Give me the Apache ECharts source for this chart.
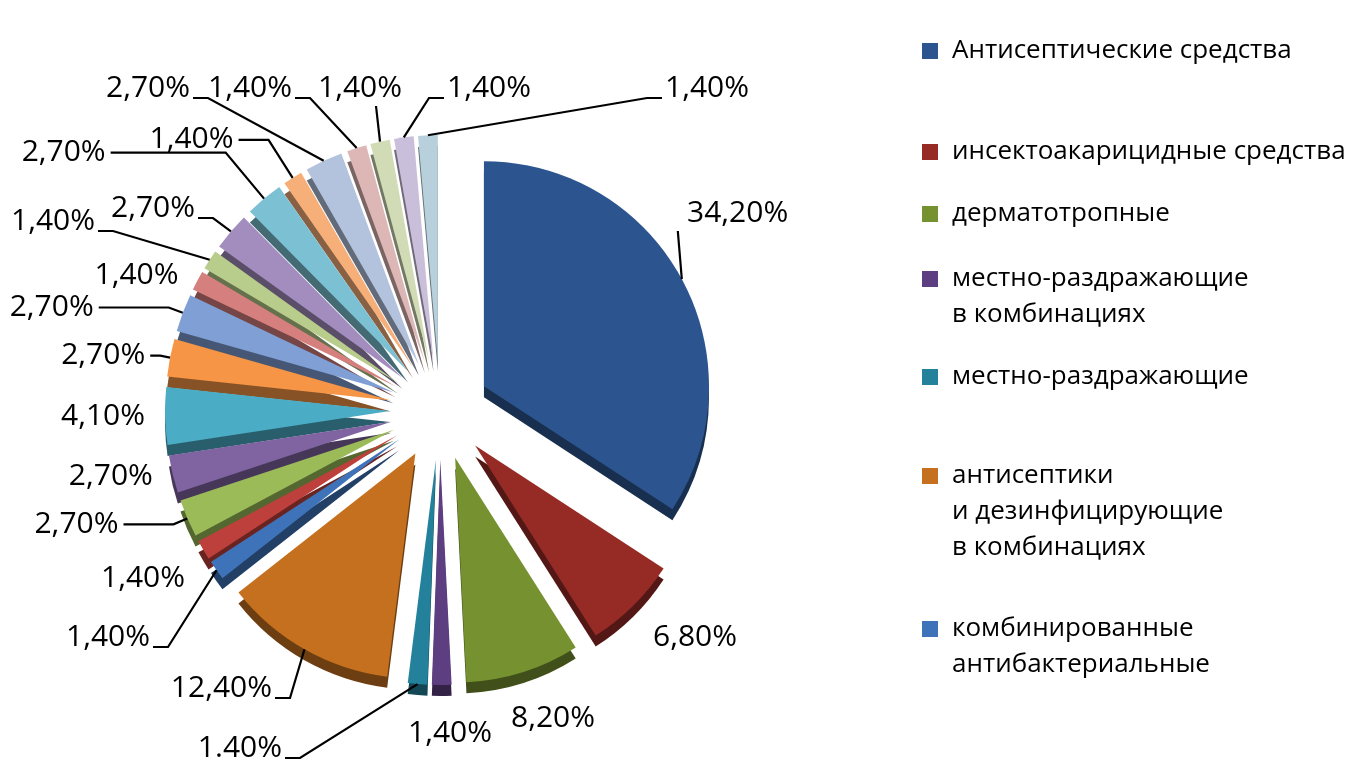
<!DOCTYPE html>
<html><head><meta charset="utf-8">
<script src="https://cdn.jsdelivr.net/npm/echarts@6/dist/echarts.min.js"></script>
<style>html,body{margin:0;padding:0;background:#fff}#c{width:1364px;height:770px}</style>
</head><body><div id="c"></div>
<script>
const categories = [
  'Антисептические средства',
  'инсектоакарицидные средства',
  'дерматотропные',
  'местно-раздражающие\nв комбинациях',
  'местно-раздражающие',
  'антисептики\nи дезинфицирующие\nв комбинациях',
  'комбинированные\nантибактериальные',
  'группа 8','группа 9','группа 10','группа 11','группа 12','группа 13','группа 14',
  'группа 15','группа 16','группа 17','группа 18','группа 19','группа 20','группа 21',
  'группа 22','группа 23'
];
const values = [34.2, 6.8, 8.2, 1.4, 1.4, 12.4, 1.4, 1.4, 2.7, 2.7, 4.1, 2.7, 2.7, 1.4, 1.4, 2.7, 2.7, 1.4, 2.7, 1.4, 1.4, 1.4, 1.4];
const labelTexts = ['34,20%','6,80%','8,20%','1,40%','1.40%','12,40%','1,40%','1,40%','2,70%','2,70%','4,10%','2,70%','2,70%','1,40%','1,40%','2,70%','2,70%','1,40%','2,70%','1,40%','1,40%','1,40%','1,40%'];
const colors = ['#2C5590','#962B26','#76912F','#5D3E80','#23819B','#C5701E','#3E73B9','#BE403C','#9BBB59','#8064A2','#4BACC6','#F59545','#7F9FD5','#D5807E','#B8CD8B','#A38DBF','#7BC0D3','#F7AF79','#B3C2DD','#DDB7B6','#D1DBB6','#C9BFDA','#B8D0DB'];

function darken(hex, k) {
  const n = parseInt(hex.slice(1), 16);
  const r = Math.round(((n >> 16) & 255) * k), g = Math.round(((n >> 8) & 255) * k), b = Math.round((n & 255) * k);
  return 'rgb(' + r + ',' + g + ',' + b + ')';
}

const CX = 440, CY = 410, R = 225, OFFSET = 50;

// leader-line lengths for labels left at the library's default placement: [length, length2, showLine]
const leader = {
  8: [15, 50, true], 9: [10, 5, false], 10: [10, 5, false], 11: [10, 10, true],
  12: [15, 70, true], 13: [10, 5, false], 16: [60, 115, true], 17: [45, 30, true]
};
// labels moved to where the reference places them
const labelPlace = {
  0: { x: 687, y: 213, align: 'left', kind: 'up' },
  1: { x: 695, y: 637, align: 'center', noLine: true },
  2: { x: 553, y: 718, align: 'center', noLine: true },
  3: { x: 450, y: 733, align: 'center', noLine: true },
  4: { x: 282, y: 748, align: 'right' },
  5: { x: 272, y: 688, align: 'right' },
  6: { x: 150, y: 637, align: 'right' },
  7: { x: 185, y: 578, align: 'right', noLine: true },
  14: { x: 95, y: 221, align: 'right' },
  15: { x: 195, y: 208, align: 'right' },
  18: { x: 190, y: 88, align: 'right' },
  19: { x: 292, y: 88, align: 'right' },
  20: { x: 360, y: 88, align: 'center', kind: 'up' },
  21: { x: 447, y: 88, align: 'left' },
  22: { x: 665, y: 88, align: 'left' }
};

const topData = values.map((v, i) => ({ name: categories[i], value: v, selected: true, itemStyle: { color: colors[i] } }));
const depthData = values.map((v, i) => ({ name: categories[i], value: v, selected: true, itemStyle: { color: darken(colors[i], 0.55) } }));
const labelData = values.map((v, i) => {
  const l = leader[i] || [15, 10, !(labelPlace[i] && labelPlace[i].noLine)];
  return { name: categories[i], value: v, labelLine: { length: l[0], length2: l[1], show: l[2] } };
});

const iconCenters = [50, 151, 213, 278, 376, 475, 628];
const LH = 36;
const legends = iconCenters.map((yc, i) => {
  const nLines = categories[i].split('\n').length;
  return {
    data: [categories[i]],
    left: 922, top: yc + 6 - (2 * nLines - 1) * LH / 2, padding: 0,
    itemWidth: 16, itemHeight: 16,
    selectedMode: false,
    icon: 'rect',
    formatter: name => {
      const lines = name.split('\n');
      return new Array(lines.length - 1).fill('{t| }').concat(lines.map(l => '{t|' + l + '}')).join('\n');
    },
    textStyle: {
      rich: { t: { fontFamily: 'Open Sans', fontSize: 26, color: '#000', lineHeight: LH, padding: [0, 0, 0, 9] } }
    }
  };
});

const chart = echarts.init(document.getElementById('c'));
chart.setOption({
  animation: false,
  legend: legends,
  series: [
    {
      type: 'pie', name: 'top', center: [CX, CY], radius: [0, R],
      startAngle: 90, clockwise: true, selectedMode: 'multiple', selectedOffset: OFFSET,
      z: 2, label: { show: false }, labelLine: { show: false }, emphasis: { disabled: true },
      data: topData
    },
    {
      type: 'pie', name: 'depth', center: [CX, CY + 11], radius: [0, R],
      startAngle: 90, clockwise: true, selectedMode: 'multiple', selectedOffset: OFFSET,
      silent: true, z: 1, label: { show: false }, labelLine: { show: false },
      data: depthData
    },
    {
      type: 'pie', name: 'labels', center: [CX, CY], radius: [0, R + OFFSET],
      startAngle: 90, clockwise: true, selectedMode: false, silent: true, z: 3,
      avoidLabelOverlap: false,
      itemStyle: { color: 'rgba(0,0,0,0)' },
      emphasis: { disabled: true },
      label: {
        show: true, position: 'outside', color: '#000', fontFamily: 'Open Sans', fontSize: 30,
        formatter: p => labelTexts[p.dataIndex]
      },
      labelLine: { show: true, lineStyle: { color: '#000', width: 2.2 } },
      labelLayout: p => {
        const cfg = labelPlace[p.dataIndex];
        if (!cfg) return {};
        const out = { x: cfg.x, y: cfg.y, align: cfg.align, verticalAlign: 'middle' };
        if (cfg.noLine) return out;
        const s = p.labelLinePoints[0];
        if (cfg.kind === 'up') {
          const yEnd = cfg.y + 18;
          out.labelLinePoints = [s, [s[0] - 4, yEnd], [s[0] - 4, yEnd]];
        } else {
          const dir = cfg.align === 'right' ? 1 : -1;
          out.labelLinePoints = [s, [cfg.x + dir * 18, cfg.y + 10], [cfg.x + dir * 3, cfg.y + 10]];
        }
        return out;
      },
      data: labelData
    }
  ]
});
</script></body></html>
